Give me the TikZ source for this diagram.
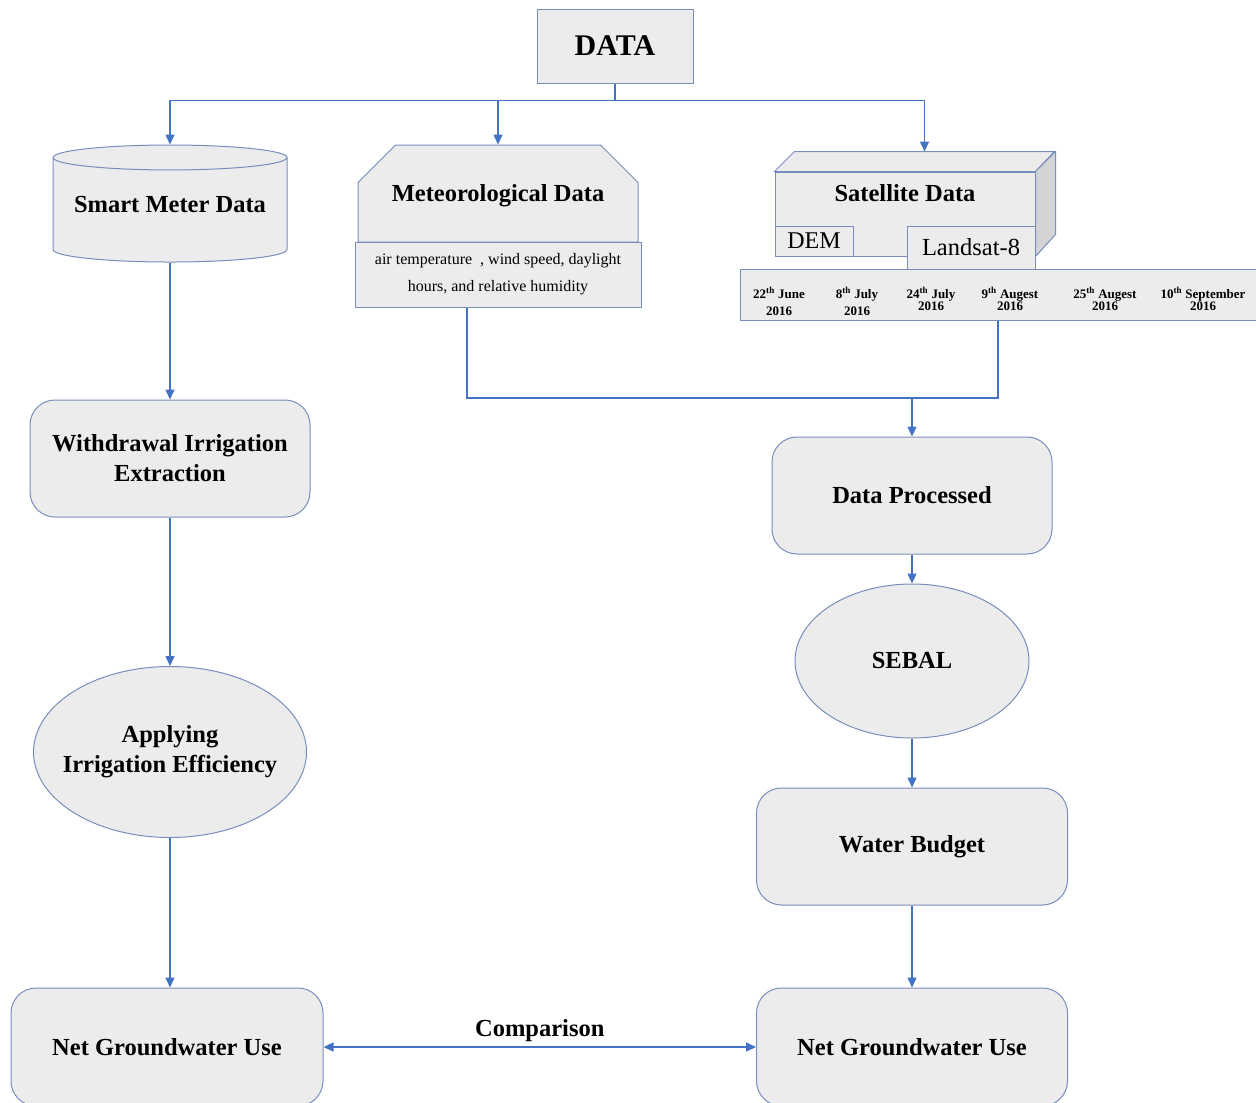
\documentclass[tikz,border=0pt]{standalone}
\usepackage{fontspec}
\setmainfont{Liberation Serif}
\usetikzlibrary{shapes.geometric,shapes.misc,arrows.meta}
\definecolor{boxfill}{RGB}{236,236,236}
\definecolor{boxline}{RGB}{120,142,186}
\definecolor{sidegray}{RGB}{212,212,212}
\definecolor{linkblue}{RGB}{68,114,196}
\begin{document}
\begin{tikzpicture}[x=1pt,y=-1pt,
  box/.style={draw=boxline,fill=boxfill,line width=1pt,align=center,inner sep=0pt,font=\bfseries\fontsize{24.5}{30}\selectfont},
  roundbox/.style={box,rounded corners=25pt,minimum height=117pt},
  oval/.style={box,ellipse,inner xsep=-30pt},
  link/.style={draw=linkblue,line width=1.4pt},
  arr/.style={link,-{Triangle[width=9pt,length=10pt]}},
  twoarr/.style={link,{Triangle[width=9pt,length=10pt]}-{Triangle[width=9pt,length=10pt]}}]
\useasboundingbox (0,0) rectangle (1256,1103);
\clip (0,0) rectangle (1256,1103);

\node[box,minimum width=156pt,minimum height=74pt,font=\bfseries\fontsize{30}{36}\selectfont] (data) at (615,46) {DATA};

\node[box,cylinder,shape border rotate=90,aspect=0.13,minimum width=234pt,minimum height=117pt,text depth=12pt] (smart) at (170,210) {Smart Meter Data};

\node[box,chamfered rectangle,chamfered rectangle corners={north west,north east},chamfered rectangle xsep=28pt,chamfered rectangle ysep=28pt,minimum width=280pt,minimum height=97pt,text depth=2pt] (met) at (498,193.5) {Meteorological Data};
\node[box,font=\normalfont\fontsize{16}{27}\selectfont,minimum width=286pt,minimum height=65pt] (metvars) at (498,274.5) {air temperature\ \ , wind speed, daylight\\hours, and relative humidity};

\node[box,minimum width=260pt,minimum height=84pt] (sat) at (905,214) {};
\draw[box] (sat.north west) -- ++(20,-20) -- coordinate[pos=0.5] (sattop) ++(260,0) -- (sat.north east) -- cycle;
\draw[draw=boxline,fill=sidegray,line width=1pt] (sat.north east) -- ++(20,-20) -- ++(0,83) -- (sat.south east) -- cycle;
\node[font=\bfseries\fontsize{24.5}{30}\selectfont] (satlabel) at (905,193) {Satellite Data};
\node[box,font=\normalfont\fontsize{24}{28}\selectfont,minimum width=78pt,minimum height=30pt] (dem) at (814,241) {DEM};
\node[box,font=\normalfont\fontsize{24.5}{28}\selectfont,minimum width=128pt,minimum height=43pt] (landsat) at (971,247.5) {Landsat-8};
\node[box,minimum width=540pt,minimum height=51pt] (dates) at (1010,294.5) {};
\foreach \x/\d/\m/\s [count=\i] in {779/22/June/17, 857/8/July/17, 931/24/July/12, 1010/9/Augest/12, 1105/25/Augest/12, 1203/10/September/12}
  \node[align=center,inner sep=0pt,font=\bfseries\fontsize{13}{\s}\selectfont] (date\i) at (\x,{293+\s/2}) {\d\textsuperscript{th} \m\\2016};

\node[roundbox,minimum width=280pt] (withdraw) at (170,458.5) {Withdrawal Irrigation\\Extraction};
\node[oval,minimum width=273pt,minimum height=171pt] (apply) at (170,752) {Applying\\Irrigation Efficiency};
\node[roundbox,minimum width=312pt,minimum height=118pt] (netleft) at (167,1047) {Net Groundwater Use};

\coordinate (join) at (912,398);
\node[roundbox,minimum width=280pt] (proc) at (912,495.5) {Data Processed};
\node[oval,minimum width=234pt,minimum height=154pt] (sebal) at (912,661) {SEBAL};
\node[roundbox,minimum width=311pt] (budget) at (912,846.5) {Water Budget};
\node[roundbox,minimum width=311pt,minimum height=118pt] (netright) at (912,1047) {Net Groundwater Use};

\draw[link] (data.south) -- ++(0,17) coordinate (split);
\draw[arr] (split) -| (smart.north);
\draw[arr] (split) -| (met.north);
\draw[arr] (split) -| (sattop);
\draw[link] ([xshift=-31pt]metvars.south) |- (join) -| ([xshift=-12pt]dates.south);
\draw[arr] (join) -- (proc.north);
\draw[arr] (proc.south) -- (sebal.north);
\draw[arr] (sebal.south) -- (budget.north);
\draw[arr] (budget.south) -- (netright.north);
\draw[arr] (smart.south) -- (withdraw.north);
\draw[arr] (withdraw.south) -- (apply.north);
\draw[arr] (apply.south) -- (apply.south |- netleft.north);
\draw[twoarr] (netleft.east) -- node[above=1pt,font=\bfseries\fontsize{24.5}{30}\selectfont] (cmp) {Comparison} (netright.west);
\end{tikzpicture}
\end{document}
